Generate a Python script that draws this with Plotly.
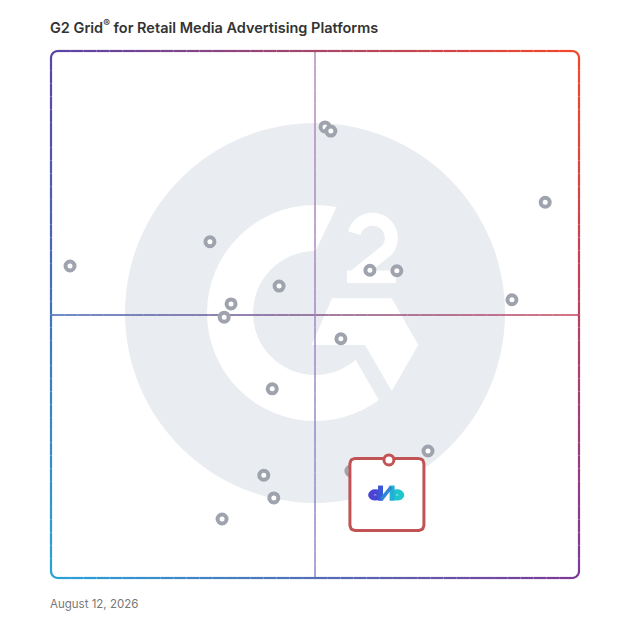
import numpy as np
import plotly.graph_objects as go

# satisfaction (x) and market presence (y), 0-100 scale
satisfaction = [3.6, 30.1, 43.2, 34.1, 32.8, 51.9, 53.0, 93.6, 60.4, 65.5,
                87.3, 54.9, 41.9, 40.3, 42.2, 32.4, 71.4, 56.8]
market_presence = [59.2, 63.8, 55.4, 52.0, 49.5, 85.6, 84.8, 71.3, 58.4, 58.3,
                   52.8, 45.4, 35.9, 19.5, 15.2, 11.2, 24.1, 20.3]

featured_satisfaction = [64.0]
featured_presence = [22.4]

title_text = "G2 Grid<sup>®</sup> for Retail Media Advertising Platforms"
date_text = "August 12, 2026"

# page body has an 8px margin, so the figure is drawn 8px in from the window edge
OFF = 8
FIG = 628 - 2 * OFF

# plot area in window pixels
L, R, T, B = 51, 579, 51, 578
SX = (R - L) / 100.0
SY = (B - T) / 100.0


def paper(x, y):
    return (x - L) / (R - L), (B - y) / (B - T)


def to_px(dx, dy):
    return L + dx * SX, B - dy * SY


def mix(c0, c1, t):
    a = [int(c0[i:i + 2], 16) for i in (1, 3, 5)]
    b = [int(c1[i:i + 2], 16) for i in (1, 3, 5)]
    return "#" + "".join(f"{round(a[k] + (b[k] - a[k]) * t):02x}" for k in range(3))


def path_from(pts, close=False):
    s = "M " + " L ".join("%.5f,%.5f" % paper(x, y) for x, y in pts)
    return s + (" Z" if close else "")


def arc_pts(cx, cy, r, a0, a1, n=40):
    a = np.radians(np.linspace(a0, a1, n))
    return list(zip(cx + r * np.cos(a), cy - r * np.sin(a)))


shapes = []


def gradient_line(p0, p1, c0, c1, width, n=40):
    for i in range(n):
        t0, t1 = i / n, (i + 1) / n
        xa, ya = p0[0] + (p1[0] - p0[0]) * t0, p0[1] + (p1[1] - p0[1]) * t0
        xb, yb = p0[0] + (p1[0] - p0[0]) * t1, p0[1] + (p1[1] - p0[1]) * t1
        x0, y0 = paper(xa, ya)
        x1, y1 = paper(xb, yb)
        shapes.append(dict(type="line", xref="paper", yref="paper", x0=x0, y0=y0, x1=x1, y1=y1,
                           line=dict(color=mix(c0, c1, (t0 + t1) / 2), width=width), layer="below"))


def circle(cx, cy, r, color, layer="below"):
    x0, y1 = paper(cx - r, cy - r)
    x1, y0 = paper(cx + r, cy + r)
    shapes.append(dict(type="circle", xref="paper", yref="paper", x0=x0, y0=y0, x1=x1, y1=y1,
                       fillcolor=color, line=dict(width=0), layer=layer))


def seg(p0, p1, color, width, layer="above"):
    x0, y0 = paper(*p0)
    x1, y1 = paper(*p1)
    shapes.append(dict(type="line", xref="paper", yref="paper", x0=x0, y0=y0, x1=x1, y1=y1,
                       line=dict(color=color, width=width), layer=layer))


# G2 watermark
grey = "#e9ecf0"
circle(315, 313, 190, grey)
circle(315, 313, 108, "white")
circle(315, 313, 62, grey)
cut = [(315, 252), (349.7, 179.5), (430, 215), (460, 313), (440, 400), (403.3, 441.7), (356.7, 361.7)]
shapes.append(dict(type="path", xref="paper", yref="paper", path=path_from(cut, True),
                   fillcolor=grey, line=dict(width=0), layer="below"))
chevron = [(332, 298.3), (391.7, 298.3), (418.3, 345), (391.7, 391), (365, 345), (311.7, 345)]
shapes.append(dict(type="path", xref="paper", yref="paper", path=path_from(chevron, True),
                   fillcolor="white", line=dict(width=0), layer="below"))
two = arc_pts(372.5, 238, 18.8, 165, -40) + [(354, 276.5)]
shapes.append(dict(type="path", xref="paper", yref="paper", path=path_from(two),
                   line=dict(color="white", width=13), layer="below"))
bx0, by0 = paper(347, 283)
bx1, by1 = paper(396, 270.5)
shapes.append(dict(type="rect", xref="paper", yref="paper", x0=bx0, y0=by0, x1=bx1, y1=by1,
                   fillcolor="white", line=dict(width=0), layer="below"))

# quadrant lines
gradient_line((L, 315), (R, 315), "#3f64b8", "#c6455b", 1.5)
gradient_line((315, T), (315, B), "#b98ab9", "#8a88cc", 1.5)

# gradient frame with rounded corners
TL, TR, BL, BR = "#5a44a8", "#f4472a", "#2aa1d8", "#7c3a97"
rc = 7
fw = 2.2
gradient_line((L + rc, T), (R - rc, T), TL, TR, fw)
gradient_line((L, T + rc), (L, B - rc), TL, BL, fw)
gradient_line((L + rc, B), (R - rc, B), BL, BR, fw)
gradient_line((R, T + rc), (R, B - rc), TR, BR, fw)
for (cx, cy, a0, a1, col) in [(L + rc, T + rc, 90, 180, TL), (R - rc, T + rc, 0, 90, TR),
                              (L + rc, B - rc, 180, 270, BL), (R - rc, B - rc, 270, 360, BR)]:
    shapes.append(dict(type="path", xref="paper", yref="paper",
                       path=path_from(arc_pts(cx, cy, rc, a0, a1, 12)),
                       line=dict(color=col, width=fw), layer="below"))

# featured product box, placed relative to the featured point
fpx, fpy = to_px(featured_satisfaction[0], featured_presence[0])
bl, br_, bt, bb, br = fpx - 39, fpx + 35, fpy - 1.5, fpy + 70.5, 5
box_px = (arc_pts(br_ - br, bt + br, br, 90, 0, 8) + arc_pts(br_ - br, bb - br, br, 0, -90, 8)
          + arc_pts(bl + br, bb - br, br, 270, 180, 8) + arc_pts(bl + br, bt + br, br, 180, 90, 8))
box_px.append(box_px[0])
box_x = [(x - L) / SX for x, y in box_px]
box_y = [(B - y) / SY for x, y in box_px]

# db logo inside the box
ox, oy = fpx, fpy
for x0p, x1p, col in [(ox - 18.2, ox - 9.2, "#4a44d4"), (ox + 3.8, ox + 12.8, "#1ec6cc")]:
    x0, y1 = paper(x0p, oy + 32)
    x1, y0 = paper(x1p, oy + 38)
    shapes.append(dict(type="circle", xref="paper", yref="paper", x0=x0, y0=y0, x1=x1, y1=y1,
                       line=dict(color=col, width=5.2), layer="above"))
seg((ox - 8.4, oy + 25.6), (ox - 8.4, oy + 40.8), "#3b58d8", 5)
seg((ox + 3.2, oy + 25.6), (ox + 3.2, oy + 40.8), "#24b0d6", 5)
seg((ox - 7.5, oy + 39.5), (ox + 2.3, oy + 27), "#2f86d8", 3.5)

fig = go.Figure()
fig.add_trace(go.Scatter(
    x=satisfaction, y=market_presence, mode="markers",
    marker=dict(size=9, color="white", line=dict(color="#9ea3ad", width=4)),
    hoverinfo="skip", cliponaxis=False
))
fig.add_trace(go.Scatter(
    x=box_x, y=box_y, mode="lines", fill="toself", fillcolor="white",
    line=dict(color="#c25354", width=3), hoverinfo="skip"
))
fig.add_trace(go.Scatter(
    x=featured_satisfaction, y=featured_presence, mode="markers",
    marker=dict(size=10, color="white", line=dict(color="#c25354", width=3)),
    hoverinfo="skip", cliponaxis=False
))

tx, ty = paper(48, 27)
dx, dy = paper(48, 604)
fig.update_layout(
    width=FIG, height=FIG,
    margin=dict(l=L - OFF, r=FIG - (R - OFF), t=T - OFF, b=FIG - (B - OFF)),
    paper_bgcolor="white", plot_bgcolor="white",
    showlegend=False,
    xaxis=dict(range=[0, 100], visible=False, fixedrange=True),
    yaxis=dict(range=[0, 100], visible=False, fixedrange=True),
    shapes=shapes,
    annotations=[
        dict(text=title_text, xref="paper", yref="paper", x=tx, y=ty, xanchor="left", yanchor="middle",
             showarrow=False, font=dict(family="Inter", size=14.5, color="#333333", weight=600)),
        dict(text=date_text, xref="paper", yref="paper", x=dx, y=dy, xanchor="left", yanchor="middle",
             showarrow=False, font=dict(family="Inter", size=11.5, color="#777777")),
    ],
    hovermode=False,
)

fig.write_html("out.html", config=dict(displayModeBar=False))
